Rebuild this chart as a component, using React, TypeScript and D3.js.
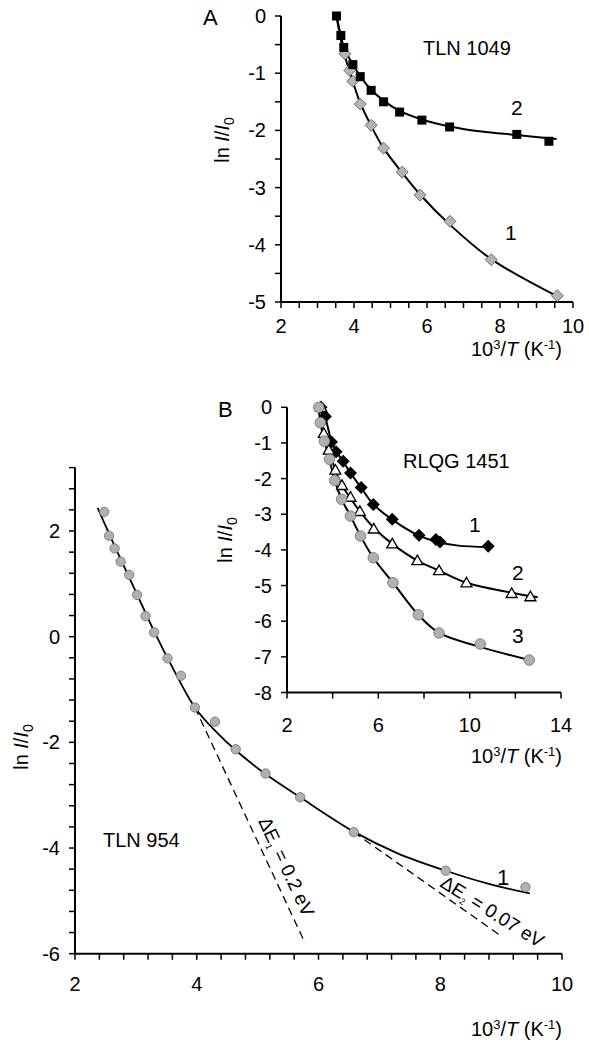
import React from "react";
import * as d3 from "d3";

type P = [number, number];

// ---------- Panel A (TLN 1049) ----------
const A_X_TICKS = [2, 4, 6, 8, 10];
const A_Y_TICKS = [0, -1, -2, -3, -4, -5];
const A_SQUARES: P[] = [
  [3.52, 0], [3.64, -0.34], [3.72, -0.55], [3.97, -0.85], [4.17, -1.06], [4.47, -1.3],
  [4.81, -1.5], [5.25, -1.68], [5.86, -1.82], [6.62, -1.94], [8.46, -2.07], [9.34, -2.19],
];
const A_DIAMONDS: P[] = [
  [3.75, -0.66], [3.88, -0.95], [3.97, -1.14], [4.17, -1.54], [4.47, -1.91], [4.81, -2.31],
  [5.32, -2.73], [5.81, -3.13], [6.63, -3.59], [7.76, -4.26], [9.57, -4.89],
];
const A_FIT_2: P[] = [
  [3.52, 0], [3.64, -0.34], [3.72, -0.55], [3.97, -0.85], [4.17, -1.05], [4.47, -1.29],
  [4.81, -1.48], [5.25, -1.66], [5.86, -1.81], [6.62, -1.93], [7.5, -2.02], [8.46, -2.08], [9.55, -2.15],
];
const A_FIT_1: P[] = [
  [3.52, 0], [3.65, -0.45], [3.75, -0.7], [3.88, -0.97], [3.97, -1.15], [4.17, -1.52],
  [4.47, -1.92], [4.81, -2.31], [5.32, -2.74], [5.81, -3.12], [6.63, -3.65], [7.76, -4.25], [9.57, -4.9],
];

// ---------- Panel B (RLQG 1451) ----------
const B_X_TICKS = [2, 6, 10, 14];
const B_Y_TICKS = [0, -1, -2, -3, -4, -5, -6, -7, -8];
const B_DIAMONDS: P[] = [
  [3.49, 0], [3.68, -0.26], [3.95, -0.97], [4.15, -1.25], [4.46, -1.51], [4.78, -1.84],
  [5.25, -2.25], [5.78, -2.73], [6.61, -3.14], [7.78, -3.59], [8.52, -3.71], [8.7, -3.78], [10.81, -3.9],
];
const B_TRIANGLES: P[] = [
  [3.5, 0], [3.61, -0.73], [3.83, -1.2], [4.12, -1.76], [4.41, -2.19], [4.78, -2.52],
  [5.19, -2.92], [5.8, -3.41], [6.61, -3.83], [7.71, -4.3], [8.66, -4.58], [9.86, -4.92],
  [11.84, -5.22], [12.66, -5.31],
];
const B_CIRCLES: P[] = [
  [3.39, 0], [3.46, -0.43], [3.64, -0.95], [3.86, -1.46], [4.09, -2.05], [4.39, -2.58],
  [4.78, -3.05], [5.22, -3.61], [5.78, -4.22], [6.64, -4.92], [7.75, -5.82], [8.66, -6.33],
  [10.46, -6.64], [12.61, -7.09],
];
const B_FIT_1: P[] = [
  [3.49, 0], [3.68, -0.3], [3.95, -0.95], [4.15, -1.23], [4.46, -1.52], [4.78, -1.84],
  [5.25, -2.26], [5.78, -2.72], [6.61, -3.15], [7.78, -3.6], [8.6, -3.78], [9.5, -3.88], [10.81, -3.92],
];
const B_FIT_2: P[] = [
  [3.5, 0], [3.61, -0.73], [3.83, -1.2], [4.12, -1.76], [4.41, -2.19], [4.78, -2.55],
  [5.19, -2.92], [5.8, -3.38], [6.61, -3.83], [7.71, -4.3], [8.66, -4.58], [9.86, -4.92],
  [11.84, -5.2], [12.98, -5.33],
];
const B_FIT_3: P[] = [
  [3.39, 0], [3.46, -0.43], [3.64, -0.95], [3.86, -1.46], [4.09, -2.05], [4.39, -2.58],
  [4.78, -3.05], [5.22, -3.61], [5.78, -4.22], [6.64, -4.92], [7.75, -5.82], [8.66, -6.33],
  [10.46, -6.72], [12.61, -7.09],
];

// ---------- Panel C (TLN 954) ----------
const C_X_TICKS = [2, 4, 6, 8, 10];
const C_Y_TICKS = [2, 0, -2, -4, -6];
const C_CIRCLES: P[] = [
  [2.48, 2.36], [2.56, 1.91], [2.65, 1.67], [2.75, 1.42], [2.89, 1.17], [3.02, 0.79],
  [3.16, 0.39], [3.3, 0.08], [3.52, -0.41], [3.74, -0.74], [3.97, -1.34], [4.3, -1.61],
  [4.64, -2.13], [5.13, -2.59], [5.7, -3.04], [6.58, -3.7], [8.09, -4.43], [9.4, -4.74],
];
const C_FIT: P[] = [
  [2.37, 2.44], [2.65, 1.72], [3.0, 0.85], [3.3, 0.1], [3.6, -0.58], [3.97, -1.34],
  [4.3, -1.78], [4.64, -2.15], [5.13, -2.6], [5.7, -3.04], [6.58, -3.69], [7.3, -4.1],
  [8.09, -4.43], [8.8, -4.68], [9.47, -4.86],
];
const C_DASH_1: P[] = [[3.97, -1.34], [5.78, -5.8]];
const C_DASH_2: P[] = [[6.58, -3.7], [8.98, -5.65]];

const FONT = "'Liberation Sans', Arial, Helvetica, sans-serif";

type Lin = d3.ScaleLinear<number, number>;

function Axes(props: {
  x: Lin; y: Lin; xTicks: number[]; yTicks: number[]; xMinor: number; yMinor: number;
  xLabelDy: number;
}) {
  const { x, y, xTicks, yTicks, xMinor, yMinor, xLabelDy } = props;
  const [xd0, xd1] = x.domain();
  const [yTop, yBot] = y.domain();
  const x0 = x(xd0), x1 = x(xd1);
  const yt = y(yTop), yb = y(yBot);
  const xm = d3.range(xd0, xd1 + 1e-9, xMinor);
  const ym = d3.range(yBot, yTop + 1e-9, yMinor);
  return (
    <g>
      <line x1={x0} x2={x0} y1={yt} y2={yb} stroke="#000" strokeWidth={2} />
      <line x1={x0} x2={x1} y1={yb} y2={yb} stroke="#000" strokeWidth={2} />
      {ym.map((v, i) => (
        <line key={"ym" + i} x1={x0 - 6} x2={x0} y1={y(v)} y2={y(v)} stroke="#000" strokeWidth={1.5} />
      ))}
      {xm.map((v, i) => (
        <line key={"xm" + i} x1={x(v)} x2={x(v)} y1={yb} y2={yb + 6} stroke="#000" strokeWidth={1.5} />
      ))}
      {yTicks.map((v) => (
        <text key={"yl" + v} x={x0 - 15} y={y(v) + 7} textAnchor="end" fontSize={20}>{String(v)}</text>
      ))}
      {xTicks.map((v) => (
        <text key={"xl" + v} x={x(v)} y={yb + xLabelDy} textAnchor="middle" fontSize={20}>{String(v)}</text>
      ))}
    </g>
  );
}

function XTitle({ x, y }: { x: number; y: number }) {
  return (
    <text x={x} y={y} textAnchor="end" fontSize={20}>
      10<tspan dy={-7} fontSize={13}>3</tspan>
      <tspan dy={7}>/</tspan>
      <tspan fontStyle="italic">T</tspan> (K<tspan dy={-7} fontSize={13}>-1</tspan>
      <tspan dy={7}>)</tspan>
    </text>
  );
}

function YTitle({ x, y }: { x: number; y: number }) {
  return (
    <text transform={`translate(${x},${y}) rotate(-90)`} textAnchor="middle" fontSize={20}>
      ln <tspan fontStyle="italic">I</tspan>/<tspan fontStyle="italic">I</tspan>
      <tspan dy={5} fontSize={14}>0</tspan>
    </text>
  );
}

const diamondPath = (r: number) => `M0,${-r}L${r},0L0,${r}L${-r},0Z`;
const trianglePath = (r: number) => `M0,${-r}L${r},${r * 0.75}L${-r},${r * 0.75}Z`;

export default function App() {
  const mk = (x: Lin, y: Lin) =>
    d3.line<P>().curve(d3.curveCatmullRom.alpha(0.5)).x((d) => x(d[0])).y((d) => y(d[1]));

  const ax = d3.scaleLinear().domain([2, 10]).range([281, 573]);
  const ay = d3.scaleLinear().domain([0, -5]).range([16, 302]);
  const bx = d3.scaleLinear().domain([2, 14]).range([287, 561]);
  const by = d3.scaleLinear().domain([0, -8]).range([407.3, 692.5]);
  const cx = d3.scaleLinear().domain([2, 10]).range([75, 562]);
  const cy = d3.scaleLinear().domain([3.2, -6]).range([467.6, 953.7]);

  const la = mk(ax, ay);
  const lb = mk(bx, by);
  const lc = mk(cx, cy);
  const lcStraight = d3.line<P>().x((d) => cx(d[0])).y((d) => cy(d[1]));

  return (
    <svg width={589} height={1043} style={{ position: "absolute", left: 0, top: 0, display: "block", background: "#fff" }}
      fontFamily={FONT}>
      {/* Panel A */}
      <Axes x={ax} y={ay} xTicks={A_X_TICKS} yTicks={A_Y_TICKS} xMinor={0.5} yMinor={0.5} xLabelDy={31} />
      <path d={la(A_FIT_1) || ""} fill="none" stroke="#000" strokeWidth={2} />
      <path d={la(A_FIT_2) || ""} fill="none" stroke="#000" strokeWidth={2} />
      {A_DIAMONDS.map((d, i) => (
        <path key={"ad" + i} d={diamondPath(6)} transform={`translate(${ax(d[0])},${ay(d[1])})`}
          fill="#b4b4b4" stroke="#555" strokeWidth={0.8} />
      ))}
      {A_SQUARES.map((d, i) => (
        <rect key={"as" + i} x={ax(d[0]) - 4.5} y={ay(d[1]) - 4.5} width={9} height={9} fill="#000" />
      ))}
      <text x={203} y={25} fontSize={22}>A</text>
      <text x={423} y={55} fontSize={20}>TLN 1049</text>
      <text x={511} y={115} fontSize={21}>2</text>
      <text x={505} y={240} fontSize={21}>1</text>
      <YTitle x={229} y={140} />
      <XTitle x={562} y={356} />

      {/* Panel B */}
      <Axes x={bx} y={by} xTicks={B_X_TICKS} yTicks={B_Y_TICKS} xMinor={2} yMinor={1} xLabelDy={39} />
      <path d={lb(B_FIT_1) || ""} fill="none" stroke="#000" strokeWidth={2} />
      <path d={lb(B_FIT_2) || ""} fill="none" stroke="#000" strokeWidth={2} />
      <path d={lb(B_FIT_3) || ""} fill="none" stroke="#000" strokeWidth={2} />
      {B_DIAMONDS.map((d, i) => (
        <path key={"bd" + i} d={diamondPath(6.5)} transform={`translate(${bx(d[0])},${by(d[1])})`} fill="#000" />
      ))}
      {B_TRIANGLES.map((d, i) => (
        <path key={"bt" + i} d={trianglePath(5.5)} transform={`translate(${bx(d[0])},${by(d[1])})`}
          fill="#fff" stroke="#000" strokeWidth={1.3} />
      ))}
      {B_CIRCLES.map((d, i) => (
        <circle key={"bc" + i} cx={bx(d[0])} cy={by(d[1])} r={5.3} fill="#b0b0b0" stroke="#707070" strokeWidth={0.8} />
      ))}
      <text x={218} y={417} fontSize={22}>B</text>
      <text x={403} y={468} fontSize={20}>RLQG 1451</text>
      <text x={469} y={532} fontSize={21}>1</text>
      <text x={512} y={580} fontSize={21}>2</text>
      <text x={512} y={643} fontSize={21}>3</text>
      <YTitle x={232} y={540} />
      <XTitle x={562} y={763} />

      {/* Panel C */}
      <Axes x={cx} y={cy} xTicks={C_X_TICKS} yTicks={C_Y_TICKS} xMinor={0.4} yMinor={0.4} xLabelDy={37} />
      <path d={lcStraight(C_DASH_1) || ""} fill="none" stroke="#000" strokeWidth={1.3} strokeDasharray="8,5" />
      <path d={lcStraight(C_DASH_2) || ""} fill="none" stroke="#000" strokeWidth={1.3} strokeDasharray="8,5" />
      <path d={lc(C_FIT) || ""} fill="none" stroke="#000" strokeWidth={1.8} />
      {C_CIRCLES.map((d, i) => (
        <circle key={"cc" + i} cx={cx(d[0])} cy={cy(d[1])} r={4.7} fill="#b0b0b0" stroke="#707070" strokeWidth={0.8} />
      ))}
      <text x={103} y={847} fontSize={20}>TLN 954</text>
      <text x={497} y={885} fontSize={22}>1</text>
      <text transform="translate(258,821) rotate(65)" fontSize={19}>
        ΔE<tspan dy={4} fontSize={9}>1</tspan><tspan dy={-4}> = 0.2 eV</tspan>
      </text>
      <text transform="translate(439,886) rotate(32)" fontSize={19}>
        ΔE<tspan dy={4} fontSize={9}>2</tspan><tspan dy={-4}> = 0.07 eV</tspan>
      </text>
      <YTitle x={28} y={747} />
      <XTitle x={562} y={1036} />
    </svg>
  );
}
